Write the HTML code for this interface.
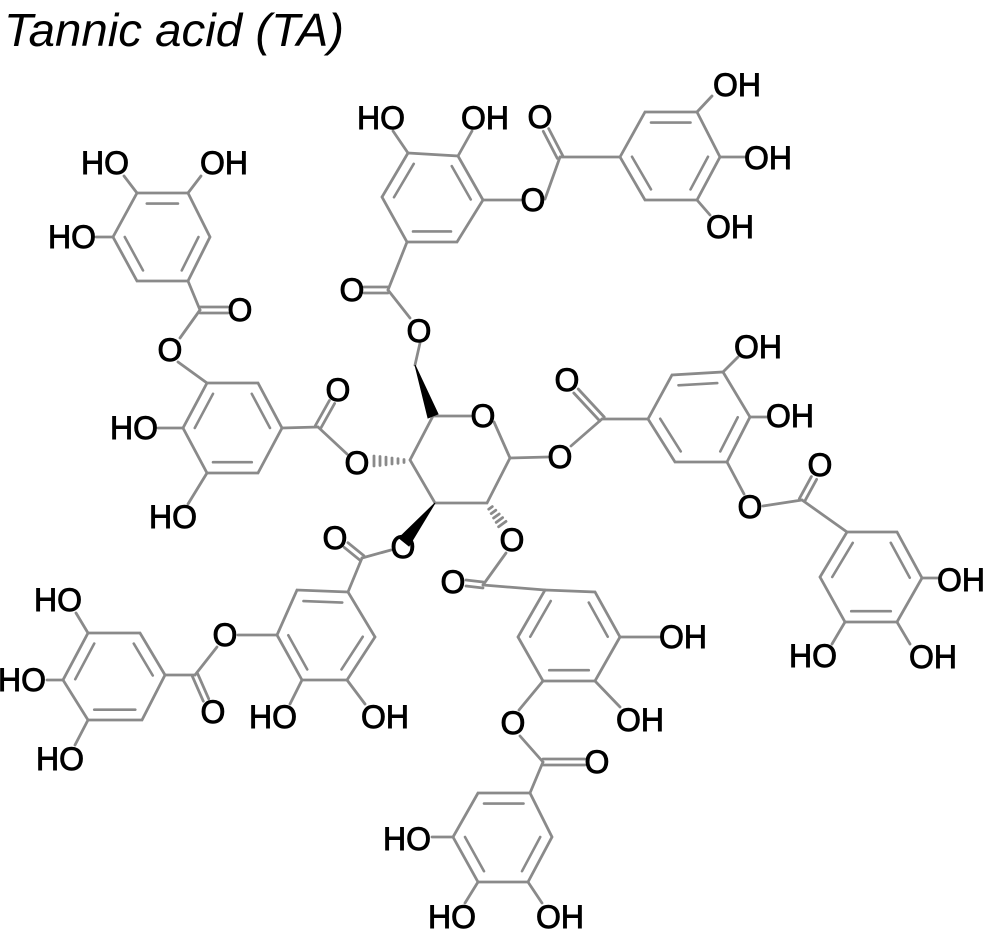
<!DOCTYPE html>
<html><head><meta charset="utf-8"><style>
html,body{margin:0;padding:0;background:#fff;}
svg{display:block;}
text{font-family:"Liberation Sans",Arial,sans-serif;font-size:32px;fill:#000;text-anchor:middle;dominant-baseline:central;stroke:#fff;stroke-width:5px;paint-order:stroke;}
.lb2 text{stroke:#000;stroke-width:0.9px;}
.b line,.b polyline,.b polygon{stroke:#8a8a8a;stroke-width:2.8;fill:none;stroke-linecap:round;}
.in line{stroke:#8a8a8a;stroke-width:3.4;stroke-linecap:round;}
</style></head><body>
<svg width="986" height="932" viewBox="0 0 986 932">
<text x="4" y="30" style="text-anchor:start;font-style:italic;font-size:46px;stroke:none" textLength="340" lengthAdjust="spacingAndGlyphs">Tannic acid (TA)</text>
<g class="b">
<polygon points="137,193 188,193 210,237 188,281 137,281 113,237"/>
<g class="in" transform="translate(162 237) scale(0.76) translate(-162 -237)"><line x1="142" y1="193" x2="183" y2="193"/><line x1="210" y1="237" x2="188" y2="281"/><line x1="137" y1="281" x2="113" y2="237"/></g>
<polygon points="207,383 258,383 282,428 258,473 207,473 183,428"/>
<g class="in" transform="translate(232 428) scale(0.76) translate(-232 -428)"><line x1="183" y1="428" x2="207" y2="383"/><line x1="258" y1="383" x2="282" y2="428"/><line x1="258" y1="473" x2="207" y2="473"/></g>
<polygon points="408,153 458,156 483,200 457,242 407,242 382,197"/>
<g class="in" transform="translate(432 198) scale(0.76) translate(-432 -198)"><line x1="382" y1="197" x2="408" y2="153"/><line x1="458" y1="156" x2="483" y2="200"/><line x1="457" y1="242" x2="407" y2="242"/></g>
<polygon points="620,157 645,112 697,112 720,157 697,200 645,200"/>
<g class="in" transform="translate(670 156) scale(0.76) translate(-670 -156)"><line x1="645" y1="112" x2="697" y2="112"/><line x1="720" y1="157" x2="697" y2="200"/><line x1="645" y1="200" x2="620" y2="157"/></g>
<polygon points="648,419 672,375 723,372 750,417 727,462 675,462"/>
<g class="in" transform="translate(699 418) scale(0.76) translate(-699 -418)"><line x1="672" y1="375" x2="723" y2="372"/><line x1="750" y1="417" x2="727" y2="462"/><line x1="675" y1="462" x2="648" y2="419"/></g>
<polygon points="847,532 897,532 922,578 897,622 845,622 820,577"/>
<g class="in" transform="translate(871 577) scale(0.76) translate(-871 -577)"><line x1="847" y1="532" x2="820" y2="577"/><line x1="897" y1="532" x2="922" y2="578"/><line x1="897" y1="622" x2="845" y2="622"/></g>
<polygon points="545,590 595,592 620,637 595,681 543,681 518,637"/>
<g class="in" transform="translate(569 636) scale(0.76) translate(-569 -636)"><line x1="518" y1="637" x2="545" y2="590"/><line x1="595" y1="592" x2="620" y2="637"/><line x1="595" y1="681" x2="543" y2="681"/></g>
<polygon points="530,793 478,793 453,837 478,882 528,882 552,837"/>
<g class="in" transform="translate(503 837) scale(0.76) translate(-503 -837)"><line x1="530" y1="793" x2="478" y2="793"/><line x1="453" y1="837" x2="478" y2="882"/><line x1="528" y1="882" x2="552" y2="837"/></g>
<polygon points="348,592 297,590 277,635 302,680 347,680 375,637"/>
<g class="in" transform="translate(324 636) scale(0.76) translate(-324 -636)"><line x1="348" y1="592" x2="297" y2="590"/><line x1="277" y1="635" x2="302" y2="680"/><line x1="347" y1="680" x2="375" y2="637"/></g>
<polygon points="165,675 140,633 88,633 63,680 88,720 142,720"/>
<g class="in" transform="translate(114 677) scale(0.76) translate(-114 -677)"><line x1="165" y1="675" x2="140" y2="633"/><line x1="88" y1="633" x2="63" y2="680"/><line x1="88" y1="720" x2="142" y2="720"/></g>
<polyline points="471,416 433,416 410,460 435,503 487,503 510,458 494,422"/>
<line x1="137" y1="193" x2="124" y2="176"/><line x1="188" y1="193" x2="201" y2="176"/><line x1="113" y1="237" x2="96" y2="237"/>
<line x1="188" y1="281" x2="200" y2="310"/><line x1="200" y1="307" x2="228" y2="307"/><line x1="200" y1="313" x2="228" y2="313"/>
<line x1="200" y1="310" x2="180" y2="338"/><line x1="178" y1="362" x2="207" y2="383"/>
<line x1="183" y1="428" x2="158" y2="428"/><line x1="207" y1="473" x2="188" y2="504"/><line x1="282" y1="428" x2="318" y2="427"/>
<line x1="315.4" y1="425.5" x2="329.4" y2="400.5"/><line x1="320.6" y1="428.5" x2="334.6" y2="403.5"/>
<line x1="318" y1="427" x2="347" y2="454"/>
<line x1="404" y1="459.5" x2="404" y2="462.5"/><line x1="398" y1="458.7" x2="398" y2="463.3"/><line x1="392" y1="458" x2="392" y2="464"/><line x1="386" y1="457.2" x2="386" y2="464.8"/><line x1="380" y1="456.5" x2="380" y2="465.5"/><line x1="374" y1="456" x2="374" y2="466"/>
<line x1="408" y1="153" x2="393" y2="131"/><line x1="458" y1="156" x2="472" y2="131"/><line x1="483" y1="200" x2="521" y2="200"/>
<line x1="407" y1="242" x2="388" y2="290"/><line x1="388" y1="287" x2="364" y2="287"/><line x1="388" y1="293" x2="364" y2="293"/>
<line x1="388" y1="290" x2="410" y2="318"/><line x1="420" y1="343" x2="415" y2="365"/>
<polygon points="415,365 428,418 438,414" style="fill:#000;stroke:#000;stroke-width:1"/>
<line x1="545" y1="199" x2="560" y2="157"/><line x1="562.7" y1="155.6" x2="548.7" y2="128.6"/><line x1="557.3" y1="158.4" x2="543.3" y2="131.4"/>
<line x1="560" y1="157" x2="620" y2="157"/><line x1="697" y1="112" x2="712" y2="96"/><line x1="720" y1="157" x2="745" y2="157"/><line x1="697" y1="200" x2="710" y2="215"/>
<line x1="510" y1="458" x2="548" y2="457"/><line x1="571" y1="446" x2="602" y2="419"/>
<line x1="604.2" y1="417" x2="578.2" y2="389"/><line x1="599.8" y1="421" x2="573.8" y2="393"/><line x1="602" y1="419" x2="648" y2="419"/>
<polygon points="435,503 399,538 409,546" style="fill:#000;stroke:#000;stroke-width:1"/>
<line x1="391" y1="550" x2="362" y2="558"/>
<line x1="363.9" y1="555.7" x2="347.9" y2="542.7"/><line x1="360.1" y1="560.3" x2="344.1" y2="547.3"/><line x1="362" y1="558" x2="348" y2="592"/>
<line x1="488.7" y1="509.2" x2="492.3" y2="506.6"/><line x1="491.2" y1="513.6" x2="495.8" y2="510.2"/><line x1="493.6" y1="518" x2="499.2" y2="514"/><line x1="496.2" y1="522.4" x2="502.6" y2="517.6"/><line x1="498.6" y1="526.8" x2="506" y2="521.4"/>
<line x1="506" y1="553" x2="483" y2="585"/><line x1="483" y1="582" x2="466" y2="580"/><line x1="483" y1="588" x2="466" y2="586"/><line x1="483" y1="585" x2="545" y2="590"/>
<line x1="723" y1="372" x2="738" y2="357"/><line x1="750" y1="417" x2="767" y2="417"/><line x1="727" y1="462" x2="744" y2="494"/>
<line x1="763" y1="506" x2="802" y2="500"/><line x1="804.6" y1="501.4" x2="816.6" y2="479.4"/><line x1="799.4" y1="498.6" x2="811.4" y2="476.6"/><line x1="802" y1="500" x2="847" y2="532"/>
<line x1="922" y1="578" x2="938" y2="578"/><line x1="897" y1="622" x2="910" y2="644"/><line x1="845" y1="622" x2="832" y2="644"/>
<line x1="620" y1="637" x2="660" y2="637"/><line x1="595" y1="681" x2="620" y2="707"/><line x1="543" y1="681" x2="519" y2="710"/>
<line x1="520" y1="736" x2="543" y2="762"/><line x1="543" y1="759" x2="585" y2="759"/><line x1="543" y1="765" x2="585" y2="765"/><line x1="543" y1="762" x2="530" y2="793"/>
<line x1="453" y1="837" x2="432" y2="837"/><line x1="478" y1="882" x2="465" y2="903"/><line x1="528" y1="882" x2="542" y2="903"/>
<line x1="302" y1="680" x2="290" y2="704"/><line x1="347" y1="680" x2="365" y2="704"/><line x1="277" y1="635" x2="238" y2="635"/>
<line x1="217" y1="647" x2="195" y2="675"/><line x1="197.7" y1="673.8" x2="208.7" y2="698.8"/><line x1="192.3" y1="676.2" x2="203.3" y2="701.2"/><line x1="195" y1="675" x2="165" y2="675"/>
<line x1="88" y1="633" x2="76" y2="613"/><line x1="63" y1="680" x2="47" y2="680"/><line x1="88" y1="720" x2="75" y2="745"/>
</g>
<g class="lb2">
<text x="105" y="163">HO</text><text x="224" y="163">OH</text><text x="72" y="237">HO</text>
<text x="240" y="310">O</text><text x="170" y="350">O</text>
<text x="134" y="428">HO</text><text x="173" y="517">HO</text><text x="338" y="390">O</text><text x="357" y="463">O</text>
<text x="381" y="118">HO</text><text x="485" y="118">OH</text><text x="352" y="290">O</text><text x="419" y="331">O</text>
<text x="533" y="200">O</text><text x="540" y="117">O</text><text x="737" y="85">OH</text><text x="768" y="158">OH</text><text x="730" y="227">OH</text>
<text x="483" y="416">O</text><text x="560" y="457">O</text><text x="567" y="380">O</text><text x="403" y="547">O</text><text x="335" y="538">O</text><text x="512" y="540">O</text><text x="453" y="582">O</text>
<text x="758" y="347">OH</text><text x="790" y="416">OH</text><text x="750" y="507">O</text><text x="820" y="465">O</text>
<text x="961" y="580">OH</text><text x="813" y="656">HO</text><text x="933" y="657">OH</text>
<text x="683" y="637">OH</text><text x="640" y="720">OH</text><text x="513" y="723">O</text><text x="597" y="762">O</text>
<text x="407" y="839">HO</text><text x="452" y="917">HO</text><text x="560" y="917">OH</text>
<text x="273" y="717">HO</text><text x="385" y="717">OH</text><text x="225" y="635">O</text><text x="213" y="712">O</text>
<text x="58" y="600">HO</text><text x="22" y="680">HO</text><text x="60" y="759">HO</text>
</g>
</svg>
</body></html>
